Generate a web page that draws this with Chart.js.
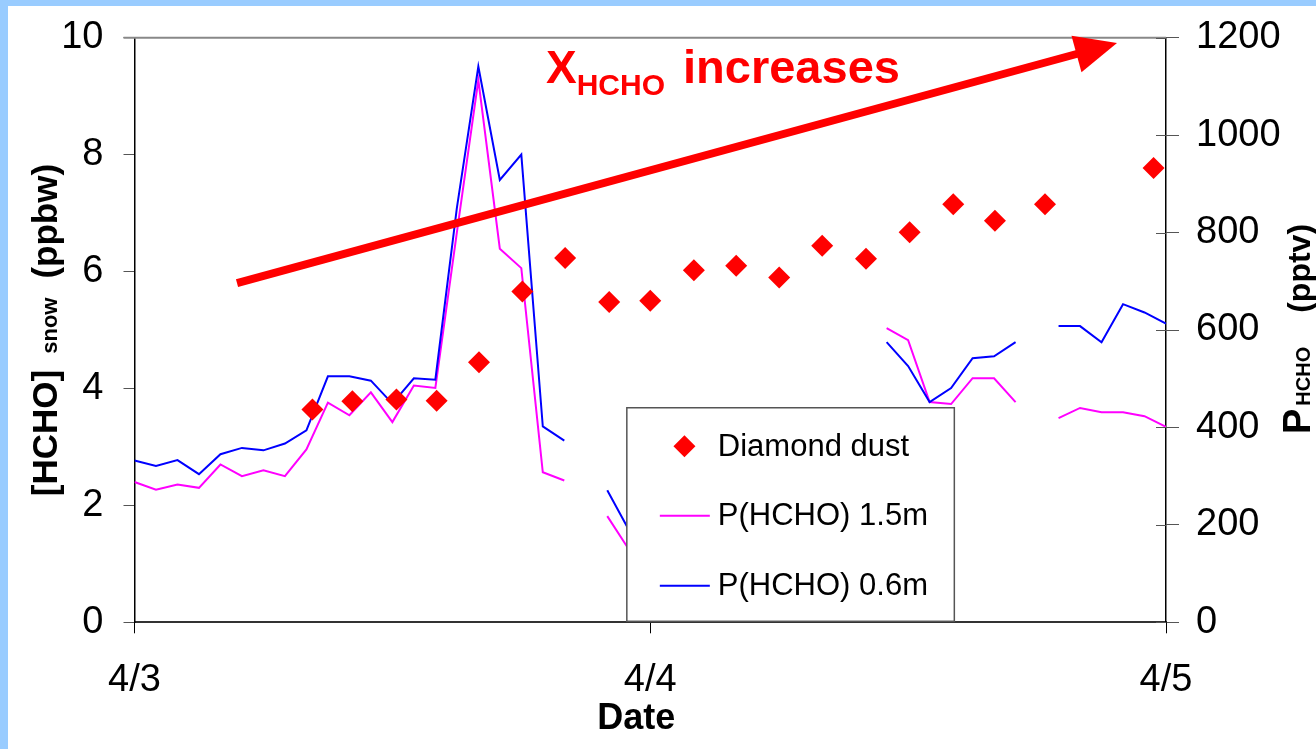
<!DOCTYPE html>
<html>
<head>
<title>HCHO in diamond dust and P(HCHO)</title>
<script src="https://cdn.jsdelivr.net/npm/chart.js"></script>
<style>
  html, body { margin: 0; padding: 0; background: #fff; }
  #wrap { position: relative; width: 1316px; height: 749px; }
</style>
</head>
<body>
<div id="wrap"><canvas id="hchoChart"></canvas></div>
<script>
// hours after 4/3 00:00
const hours = [0, 1, 2, 3, 4, 5, 6, 7, 8, 9, 10, 11, 12, 13, 14, 15, 16, 17, 18, 19, 20, 21, 22, 23, 24,
               25, 26, 27, 28, 29, 30, 31, 32, 33, 34, 35, 36, 37, 38, 39, 40, 41, 42, 43, 44, 45, 46, 47, 48];
// P(HCHO) at 0.6 m, pptv (null = no data / hidden)
const p06 = [332, 321, 333, 304, 345, 358, 353, 367, 394, 505, 505, 496, 449, 501, 498, 850, 1141, 908, 960, 402, 373, null, 271, 190, null,
             null, null, null, null, null, null, null, null, null, null, 575, 526, 452, 481, 542, 546, 575, null, 608, 608, 575, 653, 636, 613];
// P(HCHO) at 1.5 m, pptv
const p15 = [288, 272, 283, 276, 324, 300, 312, 300, 355, 451, 425, 472, 411, 486, 481, 800, 1113, 767, 727, 308, 291, null, 218, 150, null,
             null, null, null, null, null, null, null, null, null, null, 604, 579, 452, 448, 501, 501, 452, null, 419, 440, 431, 431, 423, 401];
// diamond dust samples: time (hours) and [HCHO]snow (ppbw)
const dustHours = [8.28, 10.14, 12.19, 14.06, 16.03, 18.05, 20.04, 22.09, 24.0, 26.03, 28.0, 30.0, 32.0, 34.04, 36.07, 38.1, 40.04, 42.37, 47.42];
const dustSnow  = [3.64, 3.78, 3.81, 3.79, 4.45, 5.66, 6.23, 5.48, 5.50, 6.02, 6.10, 5.90, 6.44, 6.22, 6.67, 7.15, 6.87, 7.15, 7.77];
const xTickLabels = ['4/3', '4/4', '4/5'];

const FONT = '"Liberation Sans", Arial, Helvetica, sans-serif';

// annotation anchors in data units (hours, ppbw)
const arrowFrom = { x: 4.77, y: 5.80 };
const arrowTo = { x: 45.72, y: 9.91 };
const noteAt = { x: 19.15, y: 9.22 };
const legendBox = { x1: 22.91, x2: 38.15, top: 3.67 };

function toXY(xs, ys) {
    return xs.map((x, i) => ({ x: x, y: ys[i] }));
}

// keep the plot box where the original has it
function fitVertical(width) {
    return s => {
        s.width = width;
        s.paddingTop = 0;
        s.paddingBottom = 0;
    };
}

const framePlugin = {
    id: 'frame',
    beforeDraw(chart) {
        const ctx = chart.ctx;
        ctx.save();
        ctx.fillStyle = '#ffffff';
        ctx.fillRect(0, 0, chart.width, chart.height);
        ctx.fillStyle = '#99ccff';
        ctx.fillRect(0, 0, chart.width, 6);
        ctx.fillRect(0, 0, 8, chart.height);
        ctx.restore();
    }
};

function drawRotated(ctx, cx, cy, parts) {
    ctx.save();
    ctx.translate(cx, cy);
    ctx.rotate(-Math.PI / 2);
    let total = 0;
    parts.forEach(p => {
        ctx.font = 'bold ' + p.size + 'px ' + FONT;
        p.w = ctx.measureText(p.text).width;
        total += p.w + (p.gap || 0);
    });
    let x = -total / 2;
    ctx.fillStyle = '#000';
    ctx.textBaseline = 'alphabetic';
    ctx.textAlign = 'left';
    parts.forEach(p => {
        ctx.font = 'bold ' + p.size + 'px ' + FONT;
        ctx.fillText(p.text, x, p.dy || 0);
        x += p.w + (p.gap || 0);
    });
    ctx.restore();
}

const overlayPlugin = {
    id: 'overlay',
    afterDatasetsDraw(chart) {
        const ctx = chart.ctx;
        const area = chart.chartArea;
        const xs = chart.scales.x, yl = chart.scales.y, yr = chart.scales.y2;

        ctx.save();
        // top border of plot
        ctx.strokeStyle = '#888';
        ctx.lineWidth = 2;
        ctx.beginPath();
        ctx.moveTo(area.left - 11, area.top);
        ctx.lineTo(area.right, area.top);
        ctx.stroke();

        // inner half of right-axis ticks
        ctx.strokeStyle = '#555';
        ctx.lineWidth = 1;
        yr.ticks.forEach(t => {
            const py = Math.round(yr.getPixelForValue(t.value)) + 0.5;
            ctx.beginPath();
            ctx.moveTo(area.right - 10, py);
            ctx.lineTo(area.right, py);
            ctx.stroke();
        });

        // red arrow
        const x0 = xs.getPixelForValue(arrowFrom.x), y0 = yl.getPixelForValue(arrowFrom.y);
        const x1 = xs.getPixelForValue(arrowTo.x), y1 = yl.getPixelForValue(arrowTo.y);
        const ang = Math.atan2(y1 - y0, x1 - x0);
        const headLen = 42, headHalf = 19;
        const bx = x1 - headLen * Math.cos(ang), by = y1 - headLen * Math.sin(ang);
        ctx.strokeStyle = '#ff0000';
        ctx.fillStyle = '#ff0000';
        ctx.lineWidth = 8;
        ctx.lineCap = 'butt';
        ctx.beginPath();
        ctx.moveTo(x0, y0);
        ctx.lineTo(bx + 2 * Math.cos(ang), by + 2 * Math.sin(ang));
        ctx.stroke();
        ctx.beginPath();
        ctx.moveTo(x1, y1);
        ctx.lineTo(bx + headHalf * Math.sin(ang), by - headHalf * Math.cos(ang));
        ctx.lineTo(bx - headHalf * Math.sin(ang), by + headHalf * Math.cos(ang));
        ctx.closePath();
        ctx.fill();

        // "X_HCHO increases"
        const nx = xs.getPixelForValue(noteAt.x), ny = yl.getPixelForValue(noteAt.y);
        ctx.textBaseline = 'alphabetic';
        ctx.textAlign = 'left';
        ctx.font = 'bold 46px ' + FONT;
        ctx.fillText('X', nx, ny);
        let cx = nx + ctx.measureText('X').width;
        ctx.font = 'bold 30px ' + FONT;
        ctx.fillText('HCHO', cx, ny + 12);
        cx += ctx.measureText('HCHO').width + 18;
        ctx.font = 'bold 47px ' + FONT;
        ctx.fillText('increases', cx, ny);

        // legend box
        const lx1 = xs.getPixelForValue(legendBox.x1), lx2 = xs.getPixelForValue(legendBox.x2);
        const ly1 = yl.getPixelForValue(legendBox.top), ly2 = area.bottom - 1;
        ctx.fillStyle = '#ffffff';
        ctx.fillRect(lx1, ly1, lx2 - lx1, ly2 - ly1);
        ctx.strokeStyle = '#555';
        ctx.lineWidth = 1.5;
        ctx.strokeRect(lx1, ly1, lx2 - lx1, ly2 - ly1);
        const rows = [38.5, 108, 178];
        ctx.font = '31px ' + FONT;
        ctx.textBaseline = 'middle';
        chart.data.datasets.forEach((ds, i) => {
            const ry = ly1 + rows[i];
            if (ds.type === 'scatter') {
                const r = 11;
                const mx = lx1 + 57.6;
                ctx.fillStyle = ds.backgroundColor;
                ctx.beginPath();
                ctx.moveTo(mx, ry - r);
                ctx.lineTo(mx + r, ry);
                ctx.lineTo(mx, ry + r);
                ctx.lineTo(mx - r, ry);
                ctx.closePath();
                ctx.fill();
            } else {
                ctx.strokeStyle = ds.borderColor;
                ctx.lineWidth = 2;
                ctx.beginPath();
                ctx.moveTo(lx1 + 33, ry);
                ctx.lineTo(lx1 + 83, ry);
                ctx.stroke();
            }
            ctx.fillStyle = '#000';
            ctx.fillText(ds.label, lx1 + 91, ry + 1);
        });
        ctx.restore();
    },
    afterDraw(chart) {
        const ctx = chart.ctx;
        const area = chart.chartArea;
        // axis titles with subscripts
        drawRotated(ctx, 57, 330, [
            { text: '[HCHO]', size: 35, gap: 16 },
            { text: 'snow', size: 22, gap: 19 },
            { text: '(ppbw)', size: 35 }
        ]);
        drawRotated(ctx, 1310, 329, [
            { text: 'P', size: 38, gap: 3 },
            { text: 'HCHO', size: 20, gap: 34 },
            { text: '(pptv)', size: 32 }
        ]);
        ctx.save();
        ctx.fillStyle = '#000';
        ctx.font = 'bold 36px ' + FONT;
        ctx.textAlign = 'center';
        ctx.textBaseline = 'middle';
        ctx.fillText('Date', (area.left + area.right) / 2 - 14, 719);
        ctx.restore();
    }
};

const ctx = document.getElementById('hchoChart').getContext('2d');
const hchoChart = new Chart(ctx, {
    type: 'line',
    data: {
        datasets: [
            {
                type: 'scatter',
                label: 'Diamond dust',
                data: toXY(dustHours, dustSnow),
                yAxisID: 'y',
                backgroundColor: '#ff0000',
                borderColor: '#ff0000',
                borderWidth: 0,
                pointStyle: 'rectRot',
                pointRadius: 11,
                order: 0
            },
            {
                label: 'P(HCHO) 1.5m',
                data: toXY(hours, p15),
                yAxisID: 'y2',
                borderColor: '#ff00ff',
                borderWidth: 2,
                pointRadius: 0,
                tension: 0,
                spanGaps: false,
                fill: false,
                order: 2
            },
            {
                label: 'P(HCHO) 0.6m',
                data: toXY(hours, p06),
                yAxisID: 'y2',
                borderColor: '#0000ff',
                borderWidth: 2,
                pointRadius: 0,
                tension: 0,
                spanGaps: false,
                fill: false,
                order: 1
            }
        ]
    },
    options: {
        responsive: true,
        maintainAspectRatio: false,
        animation: false,
        layout: { padding: { top: 37.7, left: 0, right: 0, bottom: 0 } },
        plugins: {
            legend: { display: false },
            tooltip: { enabled: false }
        },
        scales: {
            x: {
                type: 'linear',
                min: 0,
                max: 48,
                afterFit: s => { s.height = 126.7; },
                ticks: {
                    stepSize: 24,
                    autoSkip: false,
                    maxRotation: 0,
                    color: '#000',
                    padding: 24,
                    font: { family: FONT, size: 38 },
                    callback: v => xTickLabels[v / 24]
                },
                grid: { drawOnChartArea: false, tickLength: 11, color: '#000' },
                border: { color: '#333', width: 2 }
            },
            y: {
                position: 'left',
                min: 0,
                max: 10,
                afterFit: fitVertical(134.5),
                ticks: {
                    stepSize: 2,
                    color: '#000',
                    padding: 20,
                    font: { family: FONT, size: 38 },
                    callback: v => String(v)
                },
                grid: { drawOnChartArea: false, tickLength: 11, color: '#555' },
                border: { color: '#000', width: 1.5 }
            },
            y2: {
                position: 'right',
                min: 0,
                max: 1200,
                afterFit: fitVertical(150),
                ticks: {
                    stepSize: 200,
                    color: '#000',
                    padding: 17,
                    font: { family: FONT, size: 38 },
                    callback: v => String(v)
                },
                grid: { drawOnChartArea: false, tickLength: 13, color: '#555' },
                border: { color: '#000', width: 1.5 }
            }
        }
    },
    plugins: [framePlugin, overlayPlugin]
});
</script>
</body>
</html>
